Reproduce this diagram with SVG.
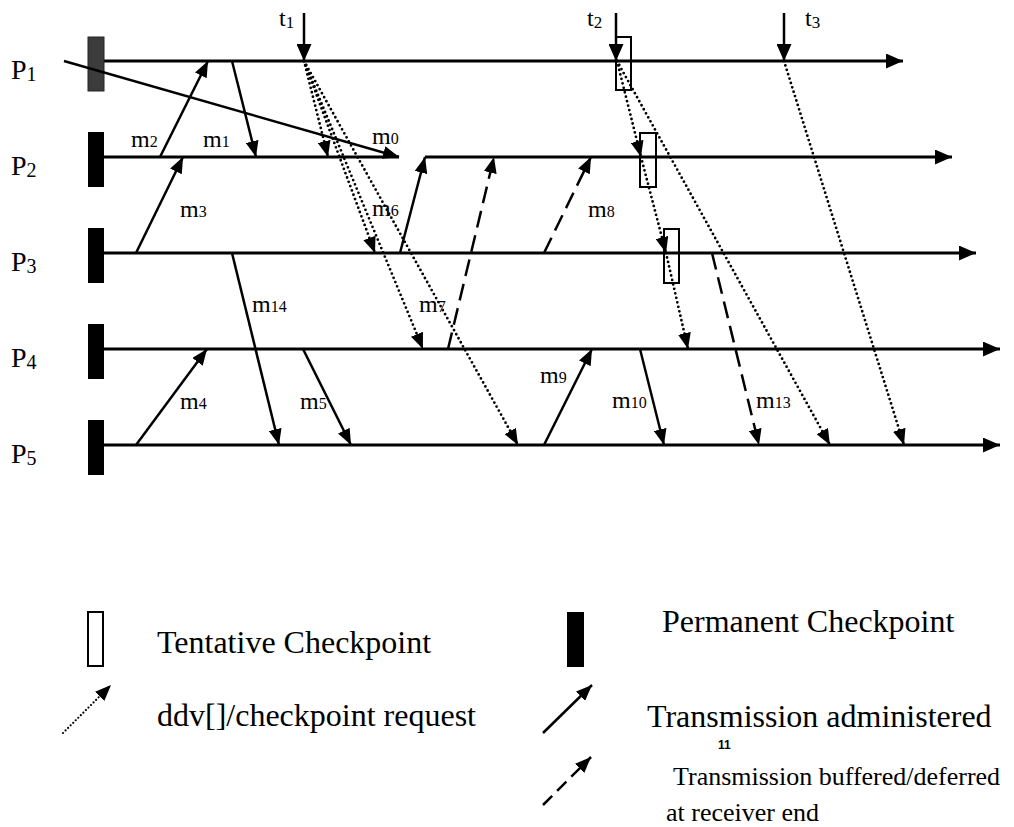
<svg xmlns="http://www.w3.org/2000/svg" width="1014" height="827" viewBox="0 0 1014 827">
<style>
  .txt { font-family: "Liberation Serif", "Times New Roman", serif; fill: #000; }
  .plabel { font-size: 28px; }
  .psub { font-size: 20px; }
  .mlabel { font-size: 24px; }
  .msub { font-size: 16px; }
  .tlabel { font-size: 24px; }
  .tsub { font-size: 17px; }
  .leg { font-size: 32px; }
  .leg2 { font-size: 26px; }
  .timeline { stroke: #000; stroke-width: 3; fill: none; }
  .msg { stroke: #000; stroke-width: 2.5; fill: none; }
  .dash { stroke: #000; stroke-width: 2.5; fill: none; stroke-dasharray: 17 8; }
  .dot { stroke: #000; stroke-width: 2.8; fill: none; stroke-dasharray: 0 4.6; stroke-linecap: round; }
  .perm { fill: #000; }
  .tent { fill: none; stroke: #000; stroke-width: 2; }
</style>
<defs>
  <marker id="ah" viewBox="0 0 16 13" refX="16" refY="6.5" markerWidth="16" markerHeight="13" markerUnits="userSpaceOnUse" orient="auto">
    <path d="M0,0 L16,6.5 L0,13 z" fill="#000"/>
  </marker>
  <marker id="ahBig" viewBox="0 0 17 15" refX="17" refY="7.5" markerWidth="17" markerHeight="15" markerUnits="userSpaceOnUse" orient="auto">
    <path d="M0,0 L17,7.5 L0,15 z" fill="#000"/>
  </marker>
</defs>

<rect width="1014" height="827" fill="#fff"/>

<!-- Processes -->
<g id="P1">
  <path class="timeline" d="M104,61 H903" marker-end="url(#ahBig)"/>
  <rect x="88" y="37" width="16" height="54" fill="#3c3c3c" stroke="#222" stroke-width="1"/>
  <text class="txt plabel" x="11" y="79">P<tspan class="psub" dy="2">1</tspan></text>
</g>
<g id="P2">
  <path class="timeline" d="M104,157 H399"/>
  <path class="timeline" d="M425,157 H952" marker-end="url(#ahBig)"/>
  <rect class="perm" x="88" y="132" width="16" height="55"/>
  <text class="txt plabel" x="11" y="175">P<tspan class="psub" dy="2">2</tspan></text>
</g>
<g id="P3">
  <path class="timeline" d="M104,253 H976" marker-end="url(#ahBig)"/>
  <rect class="perm" x="88" y="228" width="16" height="55"/>
  <text class="txt plabel" x="11" y="271">P<tspan class="psub" dy="2">3</tspan></text>
</g>
<g id="P4">
  <path class="timeline" d="M104,349 H1000" marker-end="url(#ahBig)"/>
  <rect class="perm" x="88" y="324" width="16" height="55"/>
  <text class="txt plabel" x="11" y="367">P<tspan class="psub" dy="2">4</tspan></text>
</g>
<g id="P5">
  <path class="timeline" d="M104,445 H1000" marker-end="url(#ahBig)"/>
  <rect class="perm" x="88" y="420" width="16" height="55"/>
  <text class="txt plabel" x="11" y="463">P<tspan class="psub" dy="2">5</tspan></text>
</g>

<!-- Tentative checkpoints -->
<g id="tentative">
  <rect class="tent" x="616" y="37" width="15" height="53"/>
  <rect class="tent" x="640" y="133" width="16" height="54"/>
  <rect class="tent" x="664" y="229" width="15" height="54"/>
</g>

<!-- Time markers -->
<g id="times">
  <path class="msg" d="M304,13 V61" marker-end="url(#ahBig)"/>
  <path class="msg" d="M616,13 V61" marker-end="url(#ahBig)"/>
  <path class="msg" d="M784,13 V61" marker-end="url(#ahBig)"/>
  <text class="txt tlabel" x="279" y="26">t<tspan class="tsub" dy="2">1</tspan></text>
  <text class="txt tlabel" x="587" y="26">t<tspan class="tsub" dy="2">2</tspan></text>
  <text class="txt tlabel" x="805" y="26">t<tspan class="tsub" dy="2">3</tspan></text>
</g>

<!-- Connectors -->
<g id="connectors">
  <!-- solid messages -->
  <path class="msg" d="M64,61 L399,157" marker-end="url(#ah)"/>
  <path class="msg" d="M160,157 L208,61" marker-end="url(#ah)"/>
  <path class="msg" d="M232,61 L256,157" marker-end="url(#ah)"/>
  <path class="msg" d="M136,253 L183,157" marker-end="url(#ah)"/>
  <path class="msg" d="M400,253 L425,157" marker-end="url(#ah)"/>
  <path class="msg" d="M232,253 L279,445" marker-end="url(#ah)"/>
  <path class="msg" d="M136,445 L207,349" marker-end="url(#ah)"/>
  <path class="msg" d="M303,349 L351,445" marker-end="url(#ah)"/>
  <path class="msg" d="M544,445 L592,349" marker-end="url(#ah)"/>
  <path class="msg" d="M640,349 L664,445" marker-end="url(#ah)"/>
  <!-- dashed (buffered) -->
  <path class="dash" d="M448,349 L494,157" marker-end="url(#ah)"/>
  <path class="dash" d="M544,253 L591,157" marker-end="url(#ah)"/>
  <path class="dash" d="M712,253 L759,445" marker-end="url(#ah)"/>
  <!-- dotted (ddv / checkpoint requests) -->
  <path class="dot" d="M304,61 L328,157" marker-end="url(#ah)"/>
  <path class="dot" d="M304,61 L375,253" marker-end="url(#ah)"/>
  <path class="dot" d="M304,61 L423,349" marker-end="url(#ah)"/>
  <path class="dot" d="M304,61 L518,445" marker-end="url(#ah)"/>
  <path class="dot" d="M617,61 L641,157" marker-end="url(#ah)"/>
  <path class="dot" d="M641,157 L666,253" marker-end="url(#ah)"/>
  <path class="dot" d="M666,253 L688,349" marker-end="url(#ah)"/>
  <path class="dot" d="M617,61 L830,445" marker-end="url(#ah)"/>
  <path class="dot" d="M784,61 L904,445" marker-end="url(#ah)"/>
</g>

<!-- Message labels -->
<g id="labels">
  <text class="txt mlabel" x="372" y="144">m<tspan class="msub">0</tspan></text>
  <text class="txt mlabel" x="203" y="147">m<tspan class="msub">1</tspan></text>
  <text class="txt mlabel" x="131" y="147">m<tspan class="msub">2</tspan></text>
  <text class="txt mlabel" x="180" y="217">m<tspan class="msub">3</tspan></text>
  <text class="txt mlabel" x="180" y="409">m<tspan class="msub">4</tspan></text>
  <text class="txt mlabel" x="300" y="409">m<tspan class="msub">5</tspan></text>
  <text class="txt mlabel" x="372" y="216">m<tspan class="msub">6</tspan></text>
  <text class="txt mlabel" x="419" y="312">m<tspan class="msub">7</tspan></text>
  <text class="txt mlabel" x="588" y="217">m<tspan class="msub">8</tspan></text>
  <text class="txt mlabel" x="540" y="383">m<tspan class="msub">9</tspan></text>
  <text class="txt mlabel" x="612" y="408">m<tspan class="msub">10</tspan></text>
  <text class="txt mlabel" x="756" y="408">m<tspan class="msub">13</tspan></text>
  <text class="txt mlabel" x="252" y="312">m<tspan class="msub">14</tspan></text>
</g>

<!-- Legend -->
<g id="legend">
  <rect class="tent" x="88" y="612" width="15" height="54"/>
  <text class="txt leg" x="157" y="653">Tentative Checkpoint</text>
  <path class="dot" d="M63,733 L111,685" marker-end="url(#ah)" style="stroke-width:2.2;stroke-dasharray:0 3.6"/>
  <text class="txt leg" x="157" y="726">ddv[]/checkpoint request</text>
  <rect class="perm" x="567" y="612" width="17" height="55"/>
  <text class="txt leg" x="662" y="632">Permanent Checkpoint</text>
  <path class="msg" d="M543,733 L592,685" marker-end="url(#ah)"/>
  <text class="txt leg" x="647" y="727">Transmission administered</text>
  <text x="718" y="749" style="font-family:'Liberation Sans',Arial,sans-serif;font-size:12px;font-weight:bold">11</text>
  <path class="dash" d="M543,805 L591,757" marker-end="url(#ah)" style="stroke-dasharray:13 7"/>
  <text class="txt leg2" x="673" y="785">Transmission buffered/deferred</text>
  <text class="txt leg2" x="666" y="821">at receiver end</text>
</g>
</svg>
